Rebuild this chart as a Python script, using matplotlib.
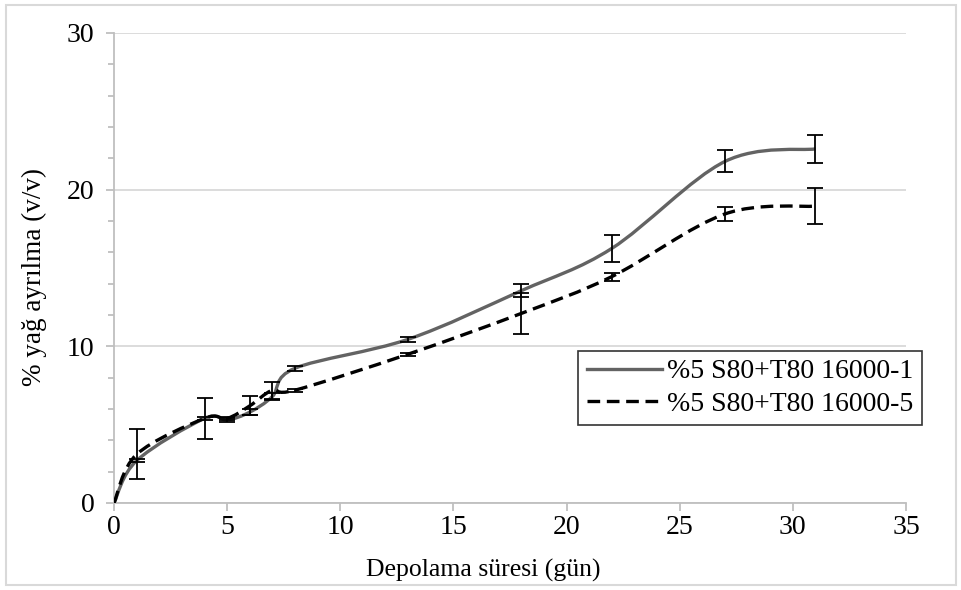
import numpy as np
import matplotlib
matplotlib.use("Agg")
import matplotlib.pyplot as plt
from matplotlib.path import Path
from matplotlib.patches import PathPatch, Rectangle
from matplotlib.lines import Line2D

# storage time (days)
days = [0, 1, 4, 5, 6, 7, 8, 13, 18, 22, 27, 31]

# % oil separation and standard deviations
sep_1 = [0.0, 2.7, 5.4, 5.3, 5.8, 6.8, 8.6, 10.45, 13.55, 16.25, 21.8, 22.6]
err_1 = [0.0, 0.1, 1.3, 0.1, 0.2, 0.2, 0.15, 0.15, 0.43, 0.88, 0.7, 0.9]
sep_5 = [0.0, 3.1, 5.4, 5.4, 6.2, 7.2, 7.2, 9.5, 12.1, 14.45, 18.45, 18.95]
err_5 = [0.0, 1.6, 0.1, 0.1, 0.6, 0.55, 0.1, 0.1, 1.3, 0.25, 0.45, 1.14]

label_1 = '%5 S80+T80 16000-1'
label_5 = '%5 S80+T80 16000-5'

plt.rcParams['font.family'] = ['Liberation Serif', 'DejaVu Serif']


def smooth_path(xs, ys):
    # cardinal bezier through every point, like a spreadsheet "smoothed line"
    pts = np.column_stack([xs, ys]).astype(float)
    ext = np.vstack([pts[0], pts, pts[-1]])
    verts = [pts[0]]
    codes = [Path.MOVETO]
    for i in range(1, len(ext) - 2):
        p0, p1, p2, p3 = ext[i - 1], ext[i], ext[i + 1], ext[i + 2]
        verts += [p1 + (p2 - p0) / 6, p2 - (p3 - p1) / 6, p2]
        codes += [Path.CURVE4] * 3
    return Path(verts, codes)


fig = plt.figure(figsize=(9.62, 5.9), dpi=100)
ax = fig.add_axes([0.1185, 0.1475, 0.8233, 0.7966])

grid = '#d9d9d9'
ax.set_xlim(0, 35)
ax.set_ylim(0, 30)
ax.set_xticks(range(0, 36, 5))
ax.set_yticks([0, 10, 20, 30])
ax.set_yticks(range(0, 31, 2), minor=True)
ax.yaxis.grid(True, color=grid, linewidth=1.3)
ax.set_axisbelow(True)
for side in ('top', 'right'):
    ax.spines[side].set_visible(False)
for side in ('left', 'bottom'):
    ax.spines[side].set_color('#bfbfbf')
    ax.spines[side].set_linewidth(1.3)
ax.tick_params(axis='both', which='both', color='#bfbfbf', width=1.3,
               labelsize=20, direction='out')
ax.tick_params(axis='y', which='major', length=6, pad=8)
ax.tick_params(axis='x', which='major', length=6, pad=3)
ax.tick_params(axis='y', which='minor', length=4)
ax.tick_params(axis='x', which='minor', length=0)

ax.add_patch(PathPatch(smooth_path(days, sep_1), fill=False,
                       edgecolor='#636363', linewidth=2.4, zorder=3))
ax.add_patch(PathPatch(smooth_path(days, sep_5), fill=False,
                       edgecolor='black', linewidth=2.4,
                       linestyle=(0, (3.8, 2)), zorder=3))

for ys, es in ((sep_1, err_1), (sep_5, err_5)):
    ax.errorbar(days[1:], ys[1:], yerr=es[1:], fmt='none', ecolor='black',
                elinewidth=1.3, capsize=5.5, capthick=1.3, zorder=4)

handles = [
    Line2D([], [], color='#636363', linewidth=2.4),
    Line2D([], [], color='black', linewidth=2.4, linestyle=(0, (3.8, 2))),
]
leg = ax.legend(handles, [label_1, label_5], loc='upper right',
                bbox_to_anchor=(1.02, 0.324), borderaxespad=0,
                fontsize=20, frameon=True, fancybox=False,
                handlelength=2.7, handletextpad=0.2, labelspacing=0.25,
                borderpad=0.3)
leg.get_frame().set_edgecolor('black')
leg.get_frame().set_linewidth(1.2)

ax.set_xlabel('Depolama süresi (gün)', fontsize=18.5)
ax.xaxis.set_label_coords(0.466, -0.118)
ax.set_ylabel('% yağ ayrılma (v/v)', fontsize=19.5)
ax.yaxis.set_label_coords(-0.085, 0.48)

fig.patches.append(Rectangle((0.006, 0.008), 0.988, 0.984,
                             transform=fig.transFigure, fill=False,
                             edgecolor='#d9d9d9', linewidth=1.5))

fig.savefig('out.png', dpi=100)
